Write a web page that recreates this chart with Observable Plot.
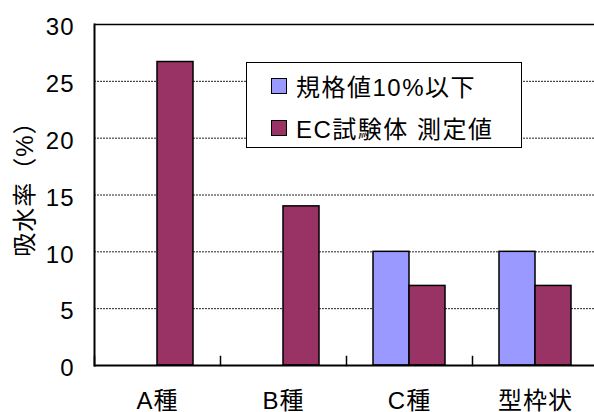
<!DOCTYPE html>
<html>
<head>
<meta charset="utf-8">
<script src="https://cdn.jsdelivr.net/npm/d3@7"></script>
<script src="https://cdn.jsdelivr.net/npm/@observablehq/plot@0.6"></script>
<style>
  html, body { margin: 0; padding: 0; background: #fff; }
  #wrap { position: relative; width: 594px; height: 412px; font-family: "Liberation Sans", "Noto Sans CJK JP", sans-serif; }
  #legend { position: absolute; left: 246px; top: 62px; width: 274px; height: 84px; border: 1.5px solid #000; background: #fff; }
  .item { position: absolute; left: 24px; display: flex; align-items: center; font-size: 24px; letter-spacing: 1.5px; color: #000; white-space: nowrap; }
  .sw { width: 14px; height: 14px; border: 1.5px solid #000; margin-right: 9px; }
</style>
</head>
<body>
<div id="wrap"></div>
<script>
const categories = ["A種", "B種", "C種", "型枠状"];
const seriesNames = ["規格値10%以下", "EC試験体 測定値"];
const standardValues = [null, null, 10, 10];
const measuredValues = [26.7, 14.0, 7.0, 7.0];
const yTicks = [0, 5, 10, 15, 20, 25, 30];
const yTitle = "吸水率（%）";
const seriesColors = ["#9999ff", "#993366"];

const data = categories.flatMap((c, i) => [
  {cat: c, series: seriesNames[0], value: standardValues[i]},
  {cat: c, series: seriesNames[1], value: measuredValues[i]}
]).filter(d => d.value != null);

const W = 594, H = 412, mL = 92, mT = 24, mB = 47;
const plotH = H - mT - mB;

const chart = Plot.plot({
  width: W, height: H,
  marginLeft: mL, marginTop: mT, marginBottom: mB, marginRight: 0,
  style: {fontFamily: "'Liberation Sans', 'Noto Sans CJK JP', sans-serif", fontSize: "24px", letterSpacing: "1px", color: "#000", background: "#fff", overflow: "visible"},
  fx: {domain: categories, range: [mL, 599], padding: 0, label: null},
  x: {domain: seriesNames, paddingInner: 0, paddingOuter: 0.716, axis: null},
  y: {domain: [0, 30]},
  color: {domain: seriesNames, range: seriesColors},
  marks: [
    Plot.ruleY(yTicks.filter(t => t > 0 && t < 30), {stroke: "#222", strokeWidth: 1, strokeDasharray: "2,1"}),
    Plot.barY(data, {fx: "cat", x: "series", y: "value", fill: "series", stroke: "#000", strokeWidth: 1.5}),
    Plot.ruleY([0], {stroke: "#000", strokeWidth: 2}),
    Plot.ruleY([30], {stroke: "#000", strokeWidth: 1.5}),
    Plot.frame({anchor: "left", facetAnchor: "left", stroke: "#000", strokeWidth: 2}),
    Plot.frame({anchor: "left", insetTop: plotH - 9, stroke: "#000", strokeWidth: 1.5}),
    Plot.axisY({ticks: yTicks, tickSize: 0, tickPadding: 20, fontSize: 24, dy: 3, label: null}),
    Plot.text([yTitle], {text: d => d, frameAnchor: "left", facetAnchor: "left", rotate: -90, dx: -69, dy: -12, fontSize: 24, textAnchor: "middle", lineAnchor: "middle"}),
    Plot.axisFx({anchor: "bottom", tickSize: 0, tickPadding: 26, fontSize: 24, label: null})
  ]
});

const wrap = document.getElementById("wrap");
wrap.appendChild(chart);

const legend = document.createElement("div");
legend.id = "legend";
seriesNames.forEach((s, i) => {
  const it = document.createElement("div");
  it.className = "item";
  it.style.top = (i === 0 ? 5 : 47) + "px";
  const sw = document.createElement("span");
  sw.className = "sw";
  sw.style.background = seriesColors[i];
  const tx = document.createElement("span");
  tx.textContent = s;
  it.appendChild(sw); it.appendChild(tx);
  legend.appendChild(it);
});
wrap.appendChild(legend);
</script>
</body>
</html>
